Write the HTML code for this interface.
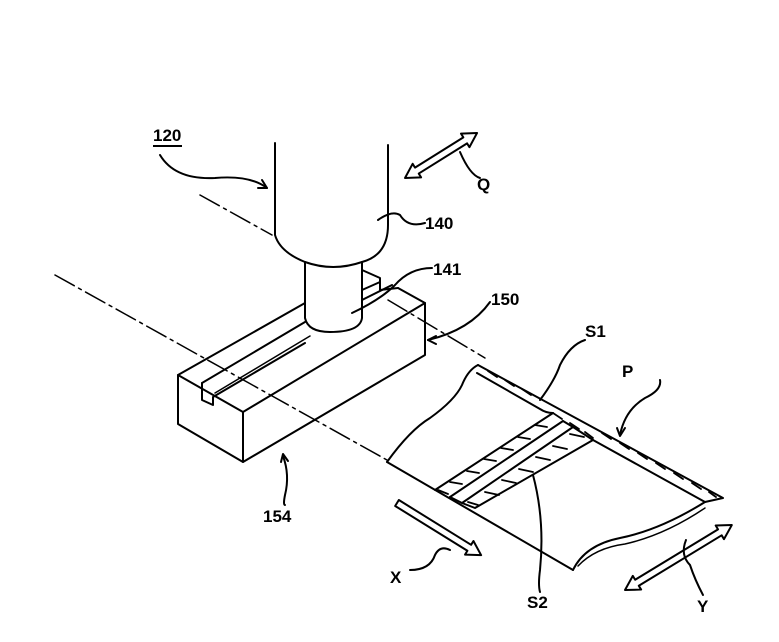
<!DOCTYPE html>
<html><head><style>html,body{margin:0;padding:0;background:#fff}svg{display:block}</style></head>
<body>
<svg width="779" height="642" viewBox="0 0 779 642" xmlns="http://www.w3.org/2000/svg">
<g fill="none" stroke="#000" stroke-width="2" stroke-linecap="round" stroke-linejoin="round">
<!-- dash-dot center lines -->
<path d="M200,195 L272,235" stroke-dasharray="22,5,3,5" stroke-width="1.5"/>
<path d="M388,300 L485,358" stroke-dasharray="22,5,3,5" stroke-width="1.5"/>
<path d="M55,275 L387,460" stroke-dasharray="22,5,3,5" stroke-width="1.5"/>
<!-- cylinder 140 -->
<path d="M275,143 L275,235 Q280,252 305,262"/>
<path d="M388,145 L388,225 Q388,255 362,262"/>
<path d="M305,262 Q333,272 362,262"/>
<!-- neck 141 -->
<path d="M305,262 L305,318 Q308,332 330,332 Q360,332 362,318 L362,262"/>
<!-- block 150/154 -->
<path d="M178,375 L178,424 L243,462 L243,412 L178,375"/>
<path d="M243,462 L425,355 L425,303 L243,412"/>
<path d="M178,375 L305,303"/>
<path d="M398,288 L425,303"/>
<path d="M362,270 L380,278 L380,290 L398,288"/>
<path d="M362,290 L380,282"/>
<!-- groove -->
<path d="M202,383 L202,400 L213,405 L213,397 L305,343"/>
<path d="M202,383 L305,322"/>
<path d="M215,393 L310,336" stroke-width="1.5"/>
<path d="M362,300 L392,285"/>
<!-- sheet P -->
<path d="M387,462 Q410,430 430,418 Q455,400 462,385 Q468,370 478,365"/>
<path d="M478,365 L723,498 L705,502"/>
<path d="M477,373 L540,409 Q546,413 553,413"/>
<path d="M593,440 L705,502"/>
<path d="M387,462 L573,570"/>
<path d="M573,570 Q585,545 620,538 Q660,530 705,502"/>
<path d="M578,566 Q595,548 625,544 Q665,535 705,508" stroke-width="1.5"/>
<!-- cross strip -->
<path d="M553,413 L435,490"/>
<path d="M563,421 L450,497"/>
<path d="M563,421 L573,427 L462,503 L450,497"/>
<path d="M573,427 L593,440 L475,508 L462,503"/>
<!-- hatching S1 band -->
<g stroke-width="1.8">
<path d="M488,371 L497,377 M505,380 L514,386 M522,389 L531,395 M602,433 L611,439 M620,443 L629,449 M638,453 L647,459 M656,463 L665,469 M674,473 L683,479 M692,483 L701,489 M709,492 L716,497"/>
<path d="M553,413 L562,419 M570,423 L579,429 M585,432 L593,438"/>
<path d="M535,425 L547,427 M518,437 L530,439 M501,448 L513,450 M484,459 L496,461 M467,471 L479,473 M450,482 L462,484 M438,490 L448,494"/>
<path d="M570,434 L584,437 M553,446 L567,449 M536,457 L550,460 M519,469 L533,472 M502,480 L516,483 M485,492 L499,495 M468,502 L478,505"/>
</g>
<!-- leaders -->
<path d="M160,155 Q175,180 215,178 Q250,175 267,188"/>
<path d="M262,180 L267,188 L258,188"/>
<path d="M378,220 Q392,210 400,215 Q408,228 425,223"/>
<path d="M352,313 Q380,300 395,285 Q410,268 432,268"/>
<path d="M428,340 Q470,330 490,302"/>
<path d="M428,340 L436,336 M428,340 L436,344"/>
<path d="M540,400 Q555,380 560,365 Q570,345 585,340"/>
<path d="M620,435 Q625,410 645,398 Q662,390 660,380"/>
<path d="M617,428 L620,436 L625,428"/>
<path d="M533,475 Q545,520 540,570 Q538,585 540,592"/>
<path d="M450,550 Q440,545 435,555 Q430,570 410,570"/>
<path d="M686,540 Q680,555 690,565 Q695,580 703,595"/>
<path d="M283,456 Q290,475 285,495 Q283,505 285,505"/>
<path d="M281,462 L283,454 L288,461"/>
<path d="M460,152 Q470,175 480,178"/>
<!-- Q arrow -->
<g transform="translate(405,178) rotate(-32)">
<path d="M0,0 L14,-8 L14,-3.5 L71,-3.5 L71,-8 L85,0 L71,8 L71,3.5 L14,3.5 L14,8 Z"/>
</g>
<!-- X arrow -->
<g transform="translate(397,503) rotate(31.8)">
<path d="M0,-3.5 L85,-3.5 L85,-8 L99,0 L85,8 L85,3.5 L0,3.5 Z"/>
</g>
<!-- Y arrow -->
<g transform="translate(625,590) rotate(-31.3)">
<path d="M0,0 L14,-8 L14,-3.5 L111,-3.5 L111,-8 L125,0 L111,8 L111,3.5 L14,3.5 L14,8 Z"/>
</g>
</g>
<g font-family="Liberation Sans, sans-serif" font-size="17" font-weight="bold" fill="#000">
<text x="153" y="141">120</text>
<path d="M153,146 L182,146" stroke="#000" stroke-width="2"/>
<text x="477" y="190">Q</text>
<text x="425" y="229">140</text>
<text x="433" y="275">141</text>
<text x="491" y="305">150</text>
<text x="585" y="337">S1</text>
<text x="622" y="377">P</text>
<text x="263" y="522">154</text>
<text x="390" y="583">X</text>
<text x="527" y="608">S2</text>
<text x="697" y="612">Y</text>
</g>
</svg>
</body></html>
